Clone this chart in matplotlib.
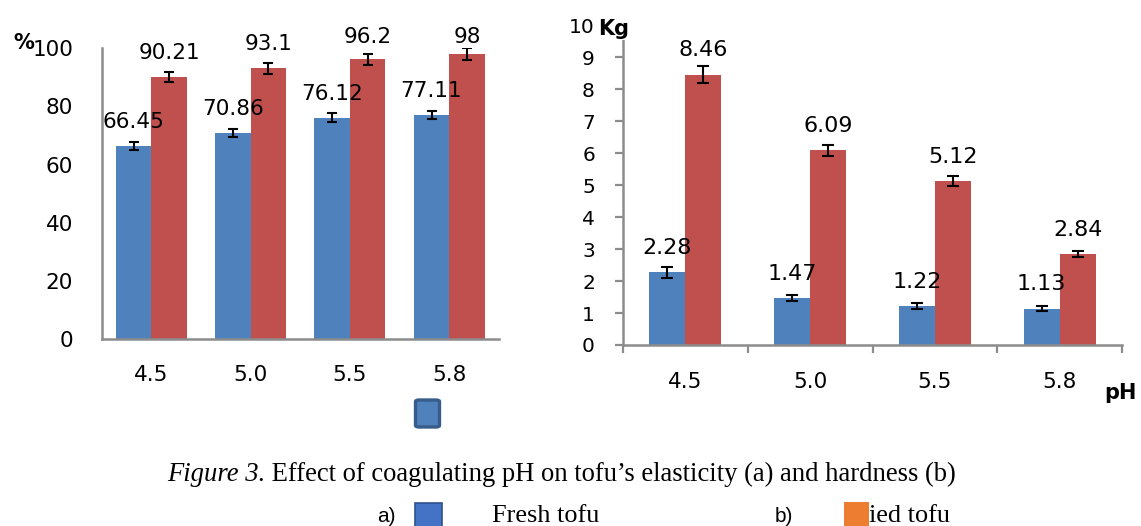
import matplotlib
matplotlib.use("Agg")
import matplotlib.pyplot as plt
from matplotlib.patches import FancyBboxPatch, Rectangle
import numpy as np

# ---------------- data ----------------
ph_labels = ["4.5", "5.0", "5.5", "5.8"]
elastic_fresh = [66.45, 70.86, 76.12, 77.11]
elastic_fried = [90.21, 93.1, 96.2, 98]
elastic_fresh_err = [1.3, 1.4, 1.5, 1.5]
elastic_fried_err = [1.8, 1.8, 1.9, 2.1]
hard_fresh = [2.28, 1.47, 1.22, 1.13]
hard_fried = [8.46, 6.09, 5.12, 2.84]
hard_fresh_err = [0.17, 0.10, 0.09, 0.08]
hard_fried_err = [0.26, 0.18, 0.16, 0.09]
left_yticks = [0, 20, 40, 60, 80, 100]
right_yticks = list(range(0, 11))

BLUE = "#4F81BD"
RED = "#C0504D"
SPINE = "#8C8C8C"

W, H = 1141, 526
fig = plt.figure(figsize=(W / 100, H / 100), dpi=100)
fig.patch.set_facecolor("white")


def fx(px):
    return px / W


def fy(py):
    return 1 - py / H


x = np.arange(len(ph_labels))

# ---------------- left chart (elasticity) ----------------
axL = fig.add_axes([fx(101.7), fy(339.3), fx(498.9 - 101.7), (339.3 - 48.3) / H])
bw = 0.357
axL.bar(x - bw / 2, elastic_fresh, bw, color=BLUE, yerr=elastic_fresh_err,
        error_kw=dict(ecolor="black", elinewidth=1.5, capsize=3.8, capthick=1.5), zorder=2)
axL.bar(x + bw / 2, elastic_fried, bw, color=RED, yerr=elastic_fried_err,
        error_kw=dict(ecolor="black", elinewidth=1.5, capsize=3.8, capthick=1.5), zorder=2)
axL.set_xlim(-0.5, 3.5)
axL.set_ylim(0, 100)
axL.set_yticks(left_yticks)
axL.set_xticks(x)
axL.set_xticklabels(ph_labels)
axL.tick_params(axis="both", length=0, labelsize=15.5, colors="black")
axL.tick_params(axis="y", pad=20.5, labelsize=15.5)
axL.tick_params(axis="x", pad=18.5)
for s in ["top", "right"]:
    axL.spines[s].set_visible(False)
for s in ["left", "bottom"]:
    axL.spines[s].set_color(SPINE)
    axL.spines[s].set_linewidth(1.8)

# data labels (clamped at top of plot area like Excel)
ppuL = (339.3 - 48.3) / 100.0
for xs, vals in ((x - bw / 2, elastic_fresh), (x + bw / 2, elastic_fried)):
    for xi, v in zip(xs, vals):
        yv = min(v + 24 / ppuL, (339.3 - 37.3) / ppuL)
        axL.text(xi, yv, f"{v:g}", ha="center", va="center", fontsize=15.5,
                 clip_on=False, zorder=3)

# ---------------- right chart (hardness) ----------------
axR = fig.add_axes([fx(623), fy(345), fx(1122 - 623), (345 - 25.3) / H])
bw2 = 0.288
axR.bar(x - bw2 / 2, hard_fresh, bw2, color=BLUE, yerr=hard_fresh_err,
        error_kw=dict(ecolor="black", elinewidth=1.5, capsize=4.5, capthick=1.5), zorder=2)
axR.bar(x + bw2 / 2, hard_fried, bw2, color=RED, yerr=hard_fried_err,
        error_kw=dict(ecolor="black", elinewidth=1.5, capsize=4.5, capthick=1.5), zorder=2)
axR.set_xlim(-0.5, 3.5)
axR.set_ylim(0, 10)
axR.set_yticks(right_yticks)
axR.set_xticks(x)
axR.set_xticklabels(ph_labels)
axR.set_xticks(np.arange(-0.5, 4.0, 1.0), minor=True)
axR.tick_params(axis="x", which="major", length=0, pad=19.5, labelsize=15.5, colors="black")
axR.tick_params(axis="x", which="minor", length=5.8, width=1.6, color=SPINE, direction="out")
axR.tick_params(axis="y", length=5.8, width=1.6, color=SPINE, pad=14.4, labelsize=14.5,
                labelcolor="black")
for s in ["top", "right"]:
    axR.spines[s].set_visible(False)
for s in ["left", "bottom"]:
    axR.spines[s].set_color(SPINE)
    axR.spines[s].set_linewidth(1.8)

for xs, vals in ((x - bw2 / 2, hard_fresh), (x + bw2 / 2, hard_fried)):
    for xi, v in zip(xs, vals):
        axR.annotate(f"{v:g}", (xi, v), xytext=(0, 17.6), textcoords="offset points",
                     ha="center", va="center", fontsize=16, annotation_clip=False, zorder=3)

# ---------------- axis unit labels ----------------
fig.text(fx(23.5), fy(43), "%", ha="center", va="center", fontsize=15, fontweight="bold")
fig.text(fx(598), fy(35), "Kg", ha="left", va="baseline", fontsize=15, fontweight="bold",
         bbox=dict(facecolor="white", edgecolor="none", pad=0.5), zorder=10)
fig.text(fx(1120), fy(393), "pH", ha="center", va="center", fontsize=15, fontweight="bold")

# middle legend marker
fig.patches.append(FancyBboxPatch((fx(415.5), fy(427)), fx(24), (427 - 400) / H,
                                  boxstyle="round,pad=0,rounding_size=0.003",
                                  facecolor=BLUE, edgecolor="#385D8A", linewidth=2.4,
                                  transform=fig.transFigure, figure=fig))

# ---------------- caption ----------------
serif = ["Liberation Serif", "DejaVu Serif"]
t1 = fig.text(fx(167), fy(481), "Figure 3.", ha="left", va="baseline", fontsize=19.2,
              family=serif, style="italic")
fig.canvas.draw()
r = fig.canvas.get_renderer()
bb = t1.get_window_extent(renderer=r)
fig.text(bb.x1 / W, fy(481), " Effect of coagulating pH on tofu\u2019s elasticity (a) and hardness (b)",
         ha="left", va="baseline", fontsize=19.2, family=serif)

# ---------------- bottom legend row ----------------
base = 521.5
fig.text(fx(377), fy(base), "a)", ha="left", va="baseline", fontsize=15, family=["Liberation Sans"])
fig.patches.append(Rectangle((fx(415), fy(530)), fx(27), (530 - 503) / H,
                             facecolor="#4472C4", edgecolor="#2F528F", linewidth=1.2,
                             transform=fig.transFigure, figure=fig))
fig.text(fx(492), fy(base), "Fresh tofu", ha="left", va="baseline", fontsize=18.9, family=serif)
fig.text(fx(775), fy(base), "b)", ha="left", va="baseline", fontsize=15, family=["Liberation Sans"])
fig.patches.append(Rectangle((fx(844), fy(530)), fx(25), (530 - 502) / H,
                             facecolor="#ED7D31", edgecolor="none",
                             transform=fig.transFigure, figure=fig))
fig.text(fx(869), fy(base), "ied tofu", ha="left", va="baseline", fontsize=18.9, family=serif)

fig.savefig("out.png", dpi=100, facecolor="white")
